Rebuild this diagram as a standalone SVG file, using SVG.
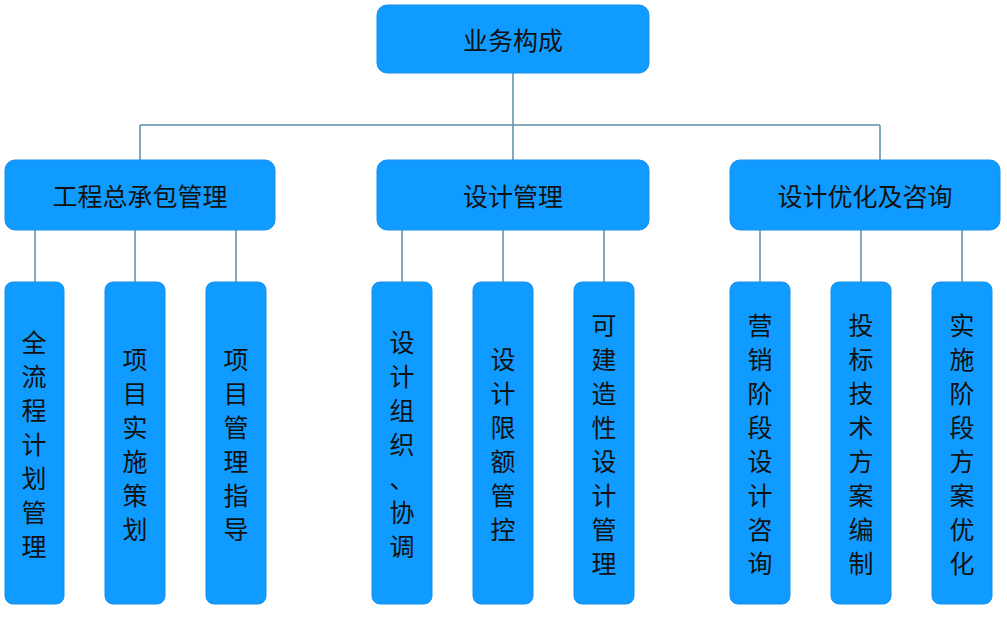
<svg xmlns="http://www.w3.org/2000/svg" width="1007" height="624" viewBox="0 0 1007 624">
<style>
.b{fill:#0f9bff;stroke:#1a8ee8;stroke-width:1}
.t{font-family:"Noto Sans CJK SC","Noto Sans",sans-serif;font-size:25px;fill:#111;text-anchor:middle;dominant-baseline:central}
.c{fill:none;stroke:#5b8fa5;stroke-width:1.5}
</style>
<rect width="1007" height="624" fill="#fff"/>
<g id="connectors">
<path class="c" d="M513 73V125M140 125H880M140 125V160M513 125V160M880 125V160"/>
<path class="c" d="M35 230V282M135 230V282M236 230V282M402 230V282M503 230V282M604 230V282M760 230V282M861 230V282M962 230V282"/>
</g>
<g id="n0"><rect class="b" x="377" y="5" width="272" height="68" rx="10"/><text class="t" x="513" y="39">业务构成</text></g>
<g id="n1"><rect class="b" x="5" y="160" width="270" height="70" rx="10"/><text class="t" x="140" y="195">工程总承包管理</text></g>
<g id="n2"><rect class="b" x="377" y="160" width="272" height="70" rx="10"/><text class="t" x="513" y="195">设计管理</text></g>
<g id="n3"><rect class="b" x="730" y="160" width="270" height="70" rx="10"/><text class="t" x="865" y="195">设计优化及咨询</text></g>
<g id="l1"><rect class="b" x="5" y="282" width="59" height="322" rx="8"/><text class="t"><tspan x="34" y="341">全</tspan><tspan x="34" dy="34">流</tspan><tspan x="34" dy="34">程</tspan><tspan x="34" dy="34">计</tspan><tspan x="34" dy="34">划</tspan><tspan x="34" dy="34">管</tspan><tspan x="34" dy="34">理</tspan></text></g>
<g id="l2"><rect class="b" x="105" y="282" width="60" height="322" rx="8"/><text class="t"><tspan x="135" y="358">项</tspan><tspan x="135" dy="34">目</tspan><tspan x="135" dy="34">实</tspan><tspan x="135" dy="34">施</tspan><tspan x="135" dy="34">策</tspan><tspan x="135" dy="34">划</tspan></text></g>
<g id="l3"><rect class="b" x="206" y="282" width="60" height="322" rx="8"/><text class="t"><tspan x="236" y="358">项</tspan><tspan x="236" dy="34">目</tspan><tspan x="236" dy="34">管</tspan><tspan x="236" dy="34">理</tspan><tspan x="236" dy="34">指</tspan><tspan x="236" dy="34">导</tspan></text></g>
<g id="l4"><rect class="b" x="372" y="282" width="60" height="322" rx="8"/><text class="t"><tspan x="402" y="341">设</tspan><tspan x="402" dy="34">计</tspan><tspan x="402" dy="34">组</tspan><tspan x="402" dy="34">织</tspan><tspan x="402" dy="34">、</tspan><tspan x="402" dy="34">协</tspan><tspan x="402" dy="34">调</tspan></text></g>
<g id="l5"><rect class="b" x="473" y="282" width="60" height="322" rx="8"/><text class="t"><tspan x="503" y="358">设</tspan><tspan x="503" dy="34">计</tspan><tspan x="503" dy="34">限</tspan><tspan x="503" dy="34">额</tspan><tspan x="503" dy="34">管</tspan><tspan x="503" dy="34">控</tspan></text></g>
<g id="l6"><rect class="b" x="574" y="282" width="60" height="322" rx="8"/><text class="t"><tspan x="604" y="324">可</tspan><tspan x="604" dy="34">建</tspan><tspan x="604" dy="34">造</tspan><tspan x="604" dy="34">性</tspan><tspan x="604" dy="34">设</tspan><tspan x="604" dy="34">计</tspan><tspan x="604" dy="34">管</tspan><tspan x="604" dy="34">理</tspan></text></g>
<g id="l7"><rect class="b" x="730" y="282" width="60" height="322" rx="8"/><text class="t"><tspan x="760" y="324">营</tspan><tspan x="760" dy="34">销</tspan><tspan x="760" dy="34">阶</tspan><tspan x="760" dy="34">段</tspan><tspan x="760" dy="34">设</tspan><tspan x="760" dy="34">计</tspan><tspan x="760" dy="34">咨</tspan><tspan x="760" dy="34">询</tspan></text></g>
<g id="l8"><rect class="b" x="831" y="282" width="60" height="322" rx="8"/><text class="t"><tspan x="861" y="324">投</tspan><tspan x="861" dy="34">标</tspan><tspan x="861" dy="34">技</tspan><tspan x="861" dy="34">术</tspan><tspan x="861" dy="34">方</tspan><tspan x="861" dy="34">案</tspan><tspan x="861" dy="34">编</tspan><tspan x="861" dy="34">制</tspan></text></g>
<g id="l9"><rect class="b" x="932" y="282" width="60" height="322" rx="8"/><text class="t"><tspan x="962" y="324">实</tspan><tspan x="962" dy="34">施</tspan><tspan x="962" dy="34">阶</tspan><tspan x="962" dy="34">段</tspan><tspan x="962" dy="34">方</tspan><tspan x="962" dy="34">案</tspan><tspan x="962" dy="34">优</tspan><tspan x="962" dy="34">化</tspan></text></g>
</svg>
